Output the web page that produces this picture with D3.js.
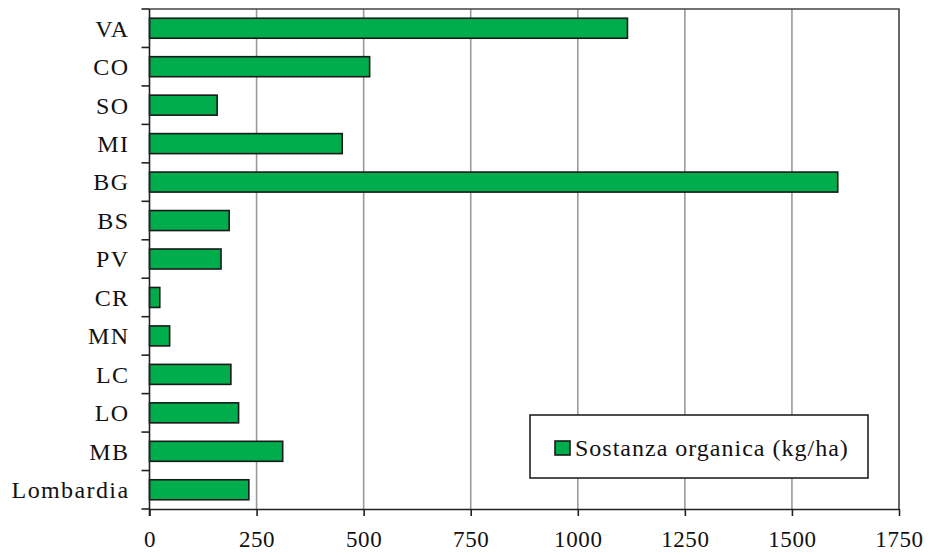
<!DOCTYPE html>
<html>
<head>
<meta charset="utf-8">
<script src="https://cdn.jsdelivr.net/npm/d3@7"></script>
<style>
    body { margin: 0; background: #fff; }
    svg text { font-family: "Liberation Serif", "Times New Roman", serif; fill: #111; }
</style>
</head>
<body>
<svg id="chart" width="933" height="555"></svg>
<script>
// data
const categories = ["VA", "CO", "SO", "MI", "BG", "BS", "PV", "CR", "MN", "LC", "LO", "MB", "Lombardia"];
const values = [1116, 514, 158, 450, 1607, 186, 167, 24, 47, 190, 208, 311, 232];
const xTicks = [0, 250, 500, 750, 1000, 1250, 1500, 1750];
const seriesName = "Sostanza organica (kg/ha)";

const svg = d3.select("#chart");
const margin = {left: 149.5, right: 34, top: 9, bottom: 46};
const width = 933, height = 555;

let x = d3.scaleLinear()
    .domain([0, 1750])
    .range([margin.left, width - margin.right]);

let y = d3.scaleBand()
    .domain(categories)
    .range([margin.top, height - margin.bottom])
    .paddingInner(0.48)
    .paddingOuter(0.24);

// gridlines
svg.append("g")
    .selectAll("line")
    .data(xTicks.slice(1, -1))
    .enter()
    .append("line")
    .attr("x1", d => x(d))
    .attr("x2", d => x(d))
    .attr("y1", margin.top)
    .attr("y2", height - margin.bottom)
    .style("stroke", "#9a9a9a")
    .style("stroke-width", 1.6);

// plot frame (top and right)
svg.append("path")
    .attr("d", `M${x(0)},${margin.top}H${x(1750)}V${height - margin.bottom}`)
    .style("fill", "none")
    .style("stroke", "#444")
    .style("stroke-width", 1.6);

// bars
svg.append("g")
    .selectAll("rect")
    .data(categories.map((c, i) => ({cat: c, val: values[i]})))
    .enter()
    .append("rect")
    .attr("x", x(0))
    .attr("y", d => y(d.cat))
    .attr("width", d => x(d.val) - x(0))
    .attr("height", y.bandwidth())
    .style("fill", "#00ad4c")
    .style("stroke", "#1a1a1a")
    .style("stroke-width", 1.6);

// x axis
let xAxis = svg.append("g")
    .attr("transform", `translate(0,${height - margin.bottom})`)
    .call(d3.axisBottom(x).tickValues(xTicks).tickFormat(d3.format("d"))
        .tickSize(7).tickSizeOuter(0).tickPadding(15));
xAxis.select(".domain").style("stroke", "#222").style("stroke-width", 1.6);
xAxis.selectAll(".tick line").style("stroke", "#222").style("stroke-width", 1.6);
xAxis.selectAll("text").style("font-size", "23px").style("fill", "#111")
    .style("letter-spacing", "0.6px");

// y axis with ticks at band boundaries
let yAxis = svg.append("g")
    .attr("transform", `translate(${x(0)},0)`);
yAxis.append("line")
    .attr("y1", margin.top)
    .attr("y2", height - margin.bottom + 7)
    .style("stroke", "#222")
    .style("stroke-width", 1.6);
let step = y.step();
yAxis.selectAll(".ytick")
    .data(d3.range(categories.length + 1))
    .enter()
    .append("line")
    .attr("class", "ytick")
    .attr("x1", -8)
    .attr("x2", 0)
    .attr("y1", i => margin.top + i * step)
    .attr("y2", i => margin.top + i * step)
    .style("stroke", "#222")
    .style("stroke-width", 1.6);
yAxis.selectAll(".ylabel")
    .data(categories)
    .enter()
    .append("text")
    .attr("class", "ylabel")
    .attr("x", -20)
    .attr("y", d => y(d) + y.bandwidth() / 2)
    .attr("dy", "0.35em")
    .attr("text-anchor", "end")
    .style("font-size", "24px")
    .style("letter-spacing", "1.4px")
    .text(d => d);

// legend
let legend = svg.append("g").attr("transform", "translate(530,415)");
legend.append("rect")
    .attr("width", 338)
    .attr("height", 63)
    .style("fill", "#fff")
    .style("stroke", "#222")
    .style("stroke-width", 1.6);
legend.append("rect")
    .attr("x", 25)
    .attr("y", 26)
    .attr("width", 15)
    .attr("height", 14)
    .style("fill", "#00ad4c")
    .style("stroke", "#1a1a1a")
    .style("stroke-width", 1.6);
legend.append("text")
    .attr("x", 45)
    .attr("y", 33)
    .attr("dy", "0.35em")
    .style("font-size", "24px")
    .style("letter-spacing", "1px")
    .text(seriesName);
</script>
</body>
</html>
